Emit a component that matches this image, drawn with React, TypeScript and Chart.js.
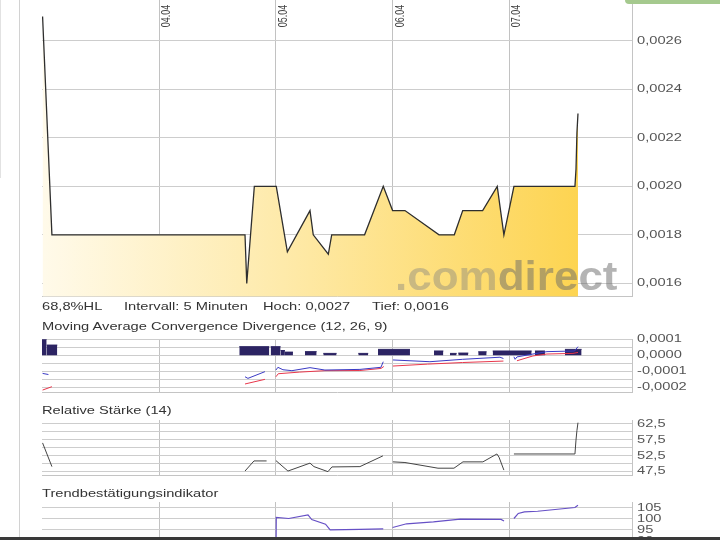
import React, { useEffect, useRef } from "react";
import { Chart, registerables } from "chart.js";

Chart.register(...registerables);

// ---------------- data ----------------
const dayTicks = [4, 5, 6, 7];
const dayLabels = ["04.04", "05.04", "06.04", "07.04"];

const priceTimes = [3.0, 3.08, 4.735, 4.75, 4.815, 5.003, 5.098, 5.292, 5.32, 5.449, 5.478, 5.76, 5.92, 6.0, 6.106, 6.398, 6.529, 6.601, 6.772, 6.897, 6.954, 7.04, 7.563, 7.572, 7.58, 7.589];
const priceValues = [0.0027, 0.0018, 0.0018, 0.0016, 0.002, 0.002, 0.00173, 0.0019, 0.0018, 0.00172, 0.0018, 0.0018, 0.002, 0.0019, 0.0019, 0.0018, 0.0018, 0.0019, 0.0019, 0.002, 0.0018, 0.002, 0.002, 0.00207, 0.00222, 0.0023];
const priceTicks = [0.0016, 0.0018, 0.002, 0.0022, 0.0024, 0.0026];

const macdTimes = [3.0, 3.05, 3.5, 4.735, 4.76, 4.906, 4.95, 5.0, 5.017, 5.06, 5.137, 5.292, 5.42, 5.72, 5.9, 5.92, 5.96, 6.003, 6.32, 6.6, 6.92, 6.95, 6.99, 7.04, 7.05, 7.066, 7.203, 7.323, 7.56, 7.589];
const macdValues = [-0.000113, -0.00012, null, -0.000134, -0.000144, -0.000102, null, -0.000092, -0.000075, -0.00009, -0.000096, -0.000077, -0.000092, -0.000088, -0.000075, -0.00004, null, -0.000029, -0.00004, -0.000025, -0.000012, -0.00002, null, -0.000009, -0.000025, -0.00001, 0.000008, 0.000023, 0.000027, 0.000054];

const signalTimes = [3.0, 3.08, 3.5, 4.735, 4.906, 4.95, 5.0, 5.02, 5.2, 5.42, 5.72, 5.9, 5.925, 5.96, 6.003, 6.3, 6.6, 6.95, 6.99, 7.066, 7.203, 7.323, 7.546, 7.589];
const signalValues = [-0.000217, -0.000196, null, -0.000179, -0.00015, null, -0.000134, -0.000115, -0.000105, -0.000096, -0.000095, -0.000082, -0.00007, null, -0.000067, -0.000055, -0.000045, -0.000036, null, -0.000034, -0.000004, 0.000008, 0.000012, 0.000018];

const histStart = [2.995, 3.035, 4.686, 4.955, 5.04, 5.077, 5.249, 5.406, 5.706, 5.875, 6.355, 6.492, 6.563, 6.734, 6.858, 7.22, 7.477];
const histEnd = [3.035, 3.126, 4.943, 5.04, 5.077, 5.146, 5.349, 5.52, 5.791, 6.149, 6.435, 6.549, 6.649, 6.806, 7.192, 7.306, 7.62];
const histValues = [0.0001, 0.000064, 0.000054, 0.000054, 0.00003, 0.00002, 0.000023, 0.000012, 0.000012, 0.000037, 0.000027, 0.000012, 0.000014, 0.000022, 0.000027, 0.000027, 0.000037];

const macdGridTicks = [-0.0002, -0.00015, -0.0001, -0.00005, 0, 0.00005, 0.0001];
const macdLabelTicks = [-0.0002, -0.0001, 0, 0.0001];

const rsiTimes = [3.0, 3.08, 3.5, 4.735, 4.812, 4.92, 4.96, 5.0, 5.103, 5.292, 5.326, 5.446, 5.48, 5.72, 5.917, 5.96, 6.003, 6.106, 6.389, 6.526, 6.603, 6.774, 6.894, 6.912, 6.954, 6.99, 7.04, 7.563, 7.572, 7.58, 7.589];
const rsiValues = [56.5, 49.0, null, 47.6, 50.8, 50.8, null, 50.9, 47.6, 50.1, 49.0, 47.4, 48.9, 49.0, 52.4, null, 50.5, 50.3, 48.5, 48.5, 50.5, 50.5, 53.0, 52.0, 47.9, null, 53.0, 53.0, 57.4, 60.4, 62.9];
const rsiGridTicks = [47.5, 50, 52.5, 55, 57.5, 60, 62.5];
const rsiLabelTicks = [47.5, 52.5, 57.5, 62.5];

const tbiTimes = [5.0, 5.003, 5.11, 5.275, 5.307, 5.425, 5.465, 5.72, 5.92, 5.96, 6.0, 6.12, 6.35, 6.58, 6.93, 6.955, 6.99, 7.04, 7.077, 7.13, 7.243, 7.563, 7.589];
const tbiValues = [80, 100.5, 100, 101.6, 99.5, 97.4, 94.8, 95.1, 95.3, null, 95.9, 97.6, 98.5, 99.7, 99.6, 98.9, null, 100, 102.3, 103, 103.3, 105, 106];
const tbiTicks = [85, 90, 95, 100, 105];

// ---------------- style ----------------
const X_MIN = 2.995;
const X_MAX = 8.052;
const STRETCH = 1.333;
const GRID_H = "#cdcdcd";
const GRID_V = "#c2c2c2";
const BORDER = "#c4c4c4";
const FONT = '"Liberation Sans", Arial, sans-serif';

const pts = (xs: number[], ys: (number | null)[]) => xs.map((x, i) => ({ x, y: ys[i] }));

const histPoints = (() => {
  const out: { x: number; y: number | null }[] = [];
  histStart.forEach((s, i) => {
    out.push({ x: s, y: histValues[i] });
    out.push({ x: histEnd[i], y: histValues[i] });
    out.push({ x: histEnd[i], y: null });
  });
  return out;
})();

const fmtComma = (d: number) => (v: number) => v.toFixed(d).replace(".", ",");

function makeLabelPlugin(labelTicks: number[], fmt: (v: number) => string, showDates: boolean) {
  return {
    id: "sideLabels",
    afterDraw(chart: any) {
      const { ctx, chartArea, scales } = chart;
      ctx.save();
      ctx.fillStyle = "#555";
      ctx.font = `11px ${FONT}`;
      ctx.textBaseline = "middle";
      ctx.textAlign = "left";
      for (const v of labelTicks) {
        const py = scales.y.getPixelForValue(v);
        ctx.save();
        ctx.translate(chartArea.right + 5, py);
        ctx.scale(STRETCH, 1);
        ctx.fillText(fmt(v), 0, 0);
        ctx.restore();
      }
      if (showDates) {
        ctx.fillStyle = "#444";
        ctx.font = `9px ${FONT}`;
        ctx.textBaseline = "alphabetic";
        dayTicks.forEach((d, i) => {
          const px = scales.x.getPixelForValue(d);
          ctx.save();
          ctx.translate(px + 11, chartArea.top + 27.3);
          ctx.scale(STRETCH, 1);
          ctx.rotate(-Math.PI / 2);
          ctx.fillText(dayLabels[i], 0, 0);
          ctx.restore();
        });
      }
      ctx.restore();
    },
  };
}

type PanelProps = {
  top: number;
  height: number;
  padTop: number;
  areaH: number;
  yMin: number;
  yMax: number;
  gridTicks: number[];
  labelTicks: number[];
  fmt: (v: number) => string;
  datasets: any[];
  dates?: boolean;
  gridOnTop?: boolean;
};

function Panel(p: PanelProps) {
  const ref = useRef<HTMLCanvasElement>(null);
  useEffect(() => {
    const canvas = ref.current!;
    const padBottom = p.height - p.padTop - p.areaH;
    const z = p.gridOnTop ? 1 : 0;
    const chart = new Chart(canvas, {
      type: "line",
      data: { datasets: p.datasets },
      options: {
        responsive: false,
        maintainAspectRatio: false,
        animation: false,
        layout: { padding: { top: p.padTop, bottom: padBottom, left: 42, right: 0 } },
        plugins: { legend: { display: false }, tooltip: { enabled: false } },
        elements: { point: { radius: 0 }, line: { tension: 0 } },
        scales: {
          x: {
            type: "linear",
            min: X_MIN,
            max: X_MAX,
            z,
            afterBuildTicks: (s: any) => {
              s.ticks = dayTicks.map((v) => ({ value: v }));
            },
            afterFit: (s: any) => {
              s.height = 0;
            },
            ticks: { display: false },
            grid: { color: GRID_V, drawTicks: false },
            border: { color: BORDER },
          },
          y: {
            type: "linear",
            position: "right",
            min: p.yMin,
            max: p.yMax,
            z,
            afterBuildTicks: (s: any) => {
              s.ticks = p.gridTicks.map((v) => ({ value: v }));
            },
            afterFit: (s: any) => {
              s.width = 88;
            },
            ticks: { display: false },
            grid: { color: GRID_H, drawTicks: false },
            border: { color: BORDER },
          },
        },
      } as any,
      plugins: [makeLabelPlugin(p.labelTicks, p.fmt, !!p.dates)],
    });
    return () => chart.destroy();
  }, []);
  return (
    <canvas
      ref={ref}
      width={720}
      height={p.height}
      style={{ position: "absolute", left: 0, top: p.top, width: 720, height: p.height }}
    />
  );
}

const priceFill = (c: any) => {
  const chart = c.chart;
  const area = chart.chartArea;
  if (!area) return "rgba(253,212,81,0.6)";
  const x0 = area.left;
  const x1 = chart.scales.x.getPixelForValue(priceTimes[priceTimes.length - 1]);
  const g = chart.ctx.createLinearGradient(x0, 0, x1, 0);
  g.addColorStop(0, "#fffaea");
  g.addColorStop(0.45, "#feeaaa");
  g.addColorStop(1, "#fdd451");
  return g;
};

function Txt({ left, top, children }: { left: number; top: number; children: React.ReactNode }) {
  return (
    <span
      style={{
        position: "absolute",
        left,
        top,
        fontSize: 11,
        lineHeight: "13px",
        color: "#333",
        whiteSpace: "nowrap",
        transform: `scaleX(${STRETCH})`,
        transformOrigin: "0 0",
      }}
    >
      {children}
    </span>
  );
}

export default function App() {
  return (
    <div
      style={{
        position: "fixed",
        left: 0,
        top: 0,
        width: 720,
        height: 540,
        overflow: "hidden",
        background: "#fff",
        fontFamily: FONT,
      }}
    >
      <div style={{ position: "absolute", left: 19, top: 0, width: 1, height: 540, background: "#d2d2d2" }} />
      <div style={{ position: "absolute", left: 0, top: 0, width: 1, height: 178, background: "#e2e2e2" }} />

      <Panel
        top={-20}
        height={330}
        padTop={20}
        areaH={296.7}
        yMin={0.001545}
        yMax={0.002768}
        gridTicks={priceTicks}
        labelTicks={priceTicks}
        fmt={fmtComma(4)}
        dates
        gridOnTop
        datasets={[
          {
            data: pts(priceTimes, priceValues),
            borderColor: "#2e2e2e",
            borderWidth: 1.3,
            backgroundColor: priceFill,
            fill: "start",
          },
        ]}
      />

      <Panel
        top={319}
        height={87}
        padTop={20.3}
        areaH={53}
        yMin={-0.000231}
        yMax={0.0001}
        gridTicks={macdGridTicks}
        labelTicks={macdLabelTicks}
        fmt={fmtComma(4)}
        datasets={[
          { data: pts(macdTimes, macdValues), borderColor: "#3a3ac4", borderWidth: 1, fill: false, spanGaps: false },
          { data: pts(signalTimes, signalValues), borderColor: "#e8374b", borderWidth: 1, fill: false, spanGaps: false },
          {
            data: histPoints,
            borderColor: "#2c2463",
            backgroundColor: "#2c2463",
            borderWidth: 1,
            fill: "origin",
            spanGaps: false,
          },
        ]}
      />

      <Panel
        top={400}
        height={90}
        padTop={20}
        areaH={55.3}
        yMin={46.25}
        yMax={63.75}
        gridTicks={rsiGridTicks}
        labelTicks={rsiLabelTicks}
        fmt={fmtComma(1)}
        datasets={[
          { data: pts(rsiTimes, rsiValues), borderColor: "#444", borderWidth: 1, fill: false, spanGaps: false },
        ]}
      />

      <Panel
        top={482}
        height={95}
        padTop={20}
        areaH={60.5}
        yMin={80}
        yMax={107.5}
        gridTicks={tbiTicks}
        labelTicks={tbiTicks}
        fmt={(v) => String(v)}
        datasets={[
          { data: pts(tbiTimes, tbiValues), borderColor: "#6650c6", borderWidth: 1.2, fill: false, spanGaps: false },
        ]}
      />

      <div
        style={{
          position: "absolute",
          left: 395,
          top: 256,
          fontSize: 40,
          lineHeight: "40px",
          fontWeight: "bold",
          whiteSpace: "nowrap",
          transform: "scaleX(1.1)",
          transformOrigin: "0 0",
          pointerEvents: "none",
        }}
      >
        <span style={{ color: "rgba(128,128,128,0.42)" }}>.com</span>
        <span style={{ color: "rgba(105,105,105,0.5)" }}>direct</span>
      </div>

      <Txt left={42} top={299.8}>68,8%HL</Txt>
      <Txt left={124} top={299.8}>Intervall: 5 Minuten</Txt>
      <Txt left={263} top={299.8}>Hoch: 0,0027</Txt>
      <Txt left={372} top={299.8}>Tief: 0,0016</Txt>
      <Txt left={42} top={320.3}>Moving Average Convergence Divergence (12, 26, 9)</Txt>
      <Txt left={42} top={404.4}>Relative Stärke (14)</Txt>
      <Txt left={42} top={486.9}>Trendbestätigungsindikator</Txt>

      <div
        style={{
          position: "absolute",
          left: 625,
          top: 0,
          width: 100,
          height: 4,
          background: "#a5c98e",
          borderBottomLeftRadius: 5,
        }}
      />
      <div style={{ position: "absolute", left: 0, top: 537, width: 720, height: 3, background: "#3a3a3a" }} />
    </div>
  );
}
